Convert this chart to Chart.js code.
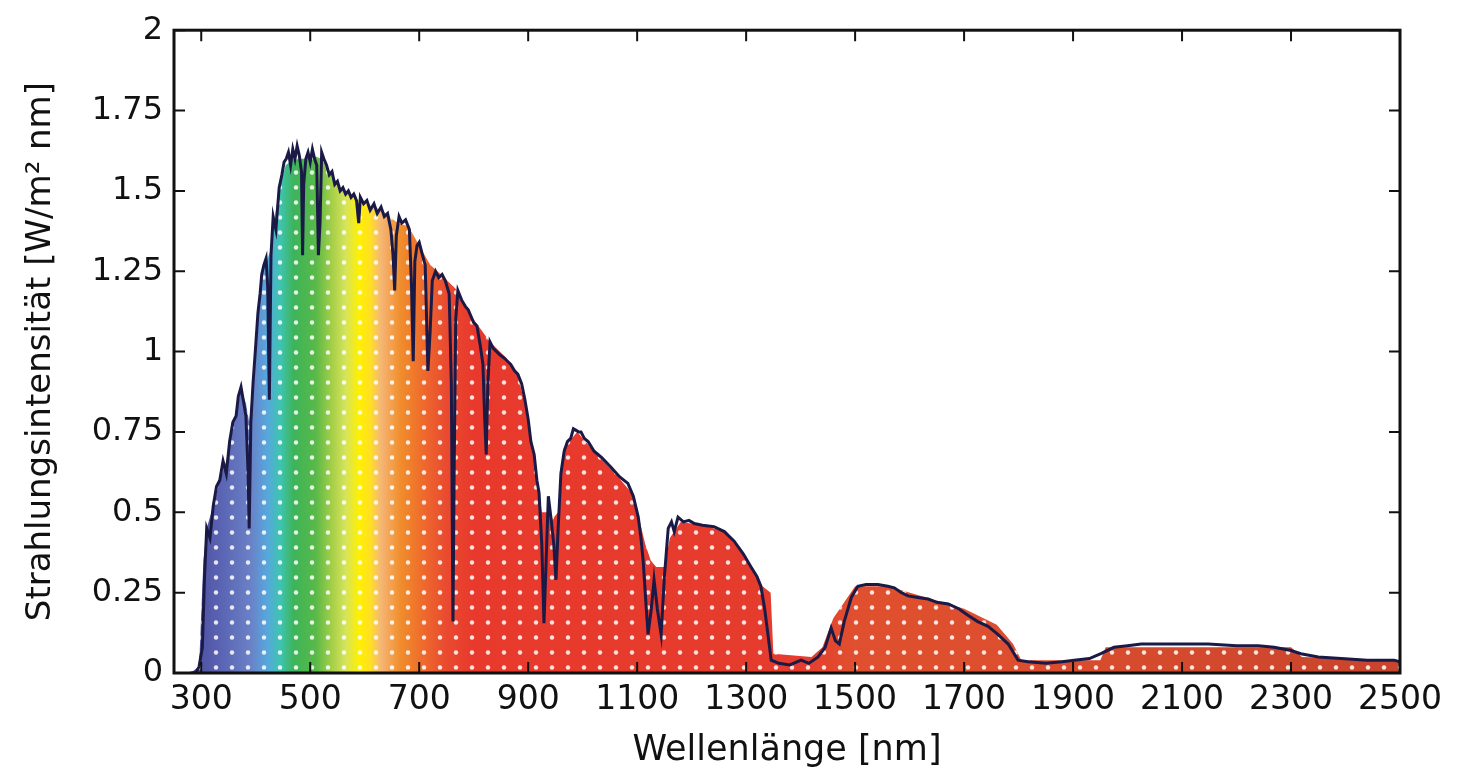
<!DOCTYPE html>
<html>
<head>
<meta charset="utf-8">
<script src="https://cdn.jsdelivr.net/npm/chart.js@4/dist/chart.umd.min.js"></script>
<style>
  html, body { margin: 0; padding: 0; background: #fff; }
  #wrap { width: 1473px; height: 776px; position: relative; }
</style>
</head>
<body>
<div id="wrap"><canvas id="chart"></canvas></div>
<script>
// spectrum outline (dark line), wavelength in nm
const wavelengths = [280, 290, 296, 302, 306, 310, 316, 322, 328, 334, 340, 346, 352, 358, 364, 368, 373, 378, 382, 386, 388, 391, 395,
  400, 404, 408, 411, 415, 419, 422, 425, 428, 432, 437, 443, 448, 452, 456, 460, 464, 468, 472, 476, 480, 484, 486, 488, 492, 496,
  500, 504, 508, 512, 515, 518, 521, 525, 530, 535, 540, 545, 550, 555, 560, 565, 570, 575, 580, 585, 589, 592, 598,
  604, 610, 617, 623, 630, 636, 642, 648, 652, 655, 658, 663, 668, 675, 682, 686, 689, 692, 696,
  700, 706, 711, 716, 720, 724, 730, 736, 742, 748, 755, 759, 762, 764, 767, 771, 778, 785, 790, 795,
  800, 806, 812, 817, 820, 823, 826, 830, 836, 842, 848, 856, 862, 868, 875, 881, 888, 894,
  900, 905, 911, 916, 920, 925, 929, 933, 937, 942, 947, 951, 955, 960, 966, 972, 978, 983, 988, 993, 997,
  1003, 1010, 1021, 1035, 1052, 1068, 1083, 1093, 1102, 1107, 1111, 1116, 1120, 1126, 1131, 1137, 1144, 1150, 1157, 1163, 1168, 1175, 1185, 1195,
  1205, 1220, 1241, 1260, 1278, 1295, 1309, 1320, 1327, 1334, 1340, 1346, 1360, 1380,
  1401, 1415, 1432, 1445, 1456, 1464, 1471, 1480, 1493, 1505, 1520, 1542, 1560, 1572, 1585, 1597,
  1615, 1634, 1650, 1671, 1690, 1707, 1725, 1744, 1762, 1781, 1799, 1817, 1850, 1880,
  1902, 1930, 1951, 1975, 2000, 2025, 2060, 2100, 2148, 2200, 2240, 2269, 2300, 2318, 2350, 2392, 2440, 2489, 2500];
const irradiance = [0, 0, 0.02, 0.08, 0.30, 0.45, 0.42, 0.52, 0.58, 0.60, 0.66, 0.62, 0.72, 0.78, 0.80, 0.86, 0.89, 0.84, 0.80, 0.62, 0.45, 0.78, 0.90,
  1.02, 1.12, 1.18, 1.24, 1.27, 1.29, 1.20, 0.85, 1.30, 1.42, 1.38, 1.51, 1.55, 1.59, 1.60, 1.62, 1.58, 1.63, 1.60, 1.64, 1.61, 1.56, 1.30, 1.52, 1.60, 1.62,
  1.59, 1.63, 1.60, 1.58, 1.30, 1.40, 1.62, 1.60, 1.58, 1.55, 1.56, 1.52, 1.53, 1.50, 1.51, 1.49, 1.50, 1.48, 1.49, 1.47, 1.40, 1.48, 1.46,
  1.47, 1.44, 1.46, 1.43, 1.45, 1.42, 1.43, 1.38, 1.30, 1.19, 1.36, 1.42, 1.40, 1.41, 1.38, 1.20, 0.97, 1.28, 1.33,
  1.34, 1.30, 1.27, 0.94, 1.06, 1.22, 1.25, 1.23, 1.24, 1.22, 1.18, 0.90, 0.16, 0.60, 1.10, 1.19, 1.16, 1.14, 1.13, 1.11,
  1.09, 1.08, 1.02, 0.96, 0.80, 0.68, 0.90, 1.03, 1.01, 1.00, 0.99, 0.98, 0.97, 0.96, 0.94, 0.93, 0.90, 0.85,
  0.79, 0.72, 0.68, 0.60, 0.56, 0.40, 0.155, 0.35, 0.55, 0.48, 0.40, 0.29, 0.45, 0.62, 0.69, 0.72, 0.73, 0.76, 0.755, 0.75, 0.75,
  0.73, 0.72, 0.69, 0.67, 0.64, 0.61, 0.59, 0.55, 0.485, 0.42, 0.35, 0.22, 0.12, 0.20, 0.29, 0.20, 0.12, 0.30, 0.45, 0.47, 0.44, 0.485, 0.47, 0.475,
  0.465, 0.46, 0.455, 0.44, 0.41, 0.37, 0.33, 0.30, 0.27, 0.20, 0.12, 0.04, 0.03, 0.025,
  0.04, 0.03, 0.05, 0.08, 0.14, 0.10, 0.09, 0.16, 0.235, 0.27, 0.275, 0.275, 0.27, 0.265, 0.25, 0.24,
  0.235, 0.23, 0.22, 0.215, 0.20, 0.18, 0.16, 0.145, 0.12, 0.09, 0.04, 0.035, 0.03, 0.035,
  0.04, 0.045, 0.06, 0.08, 0.085, 0.09, 0.09, 0.09, 0.09, 0.085, 0.085, 0.08, 0.07, 0.06, 0.05, 0.045, 0.04, 0.04, 0.035];

// top of the coloured area (it skips the narrow absorption lines)
const fillWavelengths = [280, 296, 304, 310, 322, 334, 346, 358, 373, 382, 388, 395, 405, 415, 420, 428, 435, 445, 455, 470, 490,
  505, 520, 540, 560, 580, 600, 620, 640, 660, 680, 700, 720, 740, 770, 800, 830, 860, 880, 900, 915, 925, 935, 945, 955, 965, 990,
  1020, 1060, 1090, 1105, 1115, 1125, 1135, 1150, 1160, 1180, 1220, 1260, 1300, 1320, 1330, 1345, 1350, 1420, 1440, 1460, 1480,
  1500, 1560, 1640, 1700, 1760, 1790, 1805, 1950, 1960, 2300, 2320, 2500];
const fillTop = [0, 0.02, 0.35, 0.45, 0.52, 0.60, 0.66, 0.76, 0.88, 0.84, 0.78, 0.90, 1.14, 1.27, 1.28, 1.32, 1.42, 1.52, 1.58, 1.60, 1.60,
  1.61, 1.60, 1.55, 1.50, 1.48, 1.46, 1.45, 1.43, 1.40, 1.39, 1.33, 1.27, 1.24, 1.19, 1.10, 1.03, 0.98, 0.93, 0.80, 0.62, 0.50, 0.50, 0.48, 0.50, 0.70, 0.75,
  0.69, 0.62, 0.56, 0.47, 0.40, 0.35, 0.33, 0.33, 0.42, 0.47, 0.46, 0.44, 0.36, 0.30, 0.27, 0.25, 0.06, 0.05, 0.08, 0.17, 0.22,
  0.27, 0.27, 0.23, 0.20, 0.15, 0.09, 0.04, 0.04, 0.08, 0.08, 0.05, 0.04];

const xTicks = [300, 500, 700, 900, 1100, 1300, 1500, 1700, 1900, 2100, 2300, 2500];
const yTicks = [0, 0.25, 0.5, 0.75, 1, 1.25, 1.5, 1.75, 2];
const yTickLabels = ['0', '0.25', '0.5', '0.75', '1', '1.25', '1.5', '1.75', '2'];

// spectral colours along the wavelength axis
const colorStops = [
  [280, '#4b4c9c'], [330, '#5861b0'], [390, '#6a80c6'], [420, '#58a6dc'], [445, '#3ec4b2'],
  [470, '#3db45a'], [510, '#58b948'], [540, '#a6cf48'], [565, '#d6e35c'], [590, '#fff000'],
  [610, '#ffe024'], [630, '#f5b676'], [665, '#f08e2c'], [710, '#ee682c'], [750, '#e94a30'],
  [800, '#e8392c'], [1400, '#e53c2e'], [1500, '#e0502f'], [1800, '#dc4e2e'], [2500, '#c8442c']
];

const X_MIN = 250, X_MAX = 2500;

function spectrumGradient(context) {
  const chart = context.chart;
  if (!chart.chartArea) return '#e8392c';
  const xs = chart.scales.x;
  const g = chart.ctx.createLinearGradient(xs.getPixelForValue(X_MIN), 0, xs.getPixelForValue(X_MAX), 0);
  colorStops.forEach(([nm, c]) => g.addColorStop((nm - X_MIN) / (X_MAX - X_MIN), c));
  return g;
}

function dotPattern() {
  const c = document.createElement('canvas');
  c.width = 16; c.height = 15;
  const p = c.getContext('2d');
  p.fillStyle = 'rgba(255,255,255,0.85)';
  p.beginPath();
  p.arc(8, 7.5, 2.2, 0, Math.PI * 2);
  p.fill();
  return p.createPattern(c, 'repeat');
}

const framePlugin = {
  id: 'frame',
  afterDatasetsDraw(chart) {
    const { ctx, chartArea: a, scales: { x, y } } = chart;
    ctx.save();
    ctx.strokeStyle = '#111';
    ctx.lineWidth = 2;
    ctx.beginPath();
    xTicks.forEach(v => {
      const px = x.getPixelForValue(v);
      ctx.moveTo(px, a.bottom); ctx.lineTo(px, a.bottom - 11);
      ctx.moveTo(px, a.top); ctx.lineTo(px, a.top + 11);
    });
    yTicks.forEach(v => {
      const py = y.getPixelForValue(v);
      ctx.moveTo(a.left, py); ctx.lineTo(a.left + 11, py);
      ctx.moveTo(a.right, py); ctx.lineTo(a.right - 11, py);
    });
    ctx.stroke();
    ctx.lineWidth = 3;
    ctx.strokeRect(a.left, a.top, a.right - a.left, a.bottom - a.top);
    ctx.restore();
  }
};

const outline = wavelengths.map((w, i) => ({ x: w, y: irradiance[i] }));
const area = fillWavelengths.map((w, i) => ({ x: w, y: fillTop[i] }));

new Chart(document.getElementById('chart'), {
  type: 'line',
  data: {
    datasets: [
      { data: outline, borderColor: '#1b1a46', borderWidth: 3, fill: false, order: 0 },
      { data: area, backgroundColor: dotPattern(), borderWidth: 0, fill: 'origin', order: 1 },
      { data: area, backgroundColor: spectrumGradient, borderWidth: 0, fill: 'origin', order: 2 }
    ]
  },
  options: {
    responsive: true,
    maintainAspectRatio: false,
    animation: false,
    layout: { padding: { top: 29, right: 73, left: 0, bottom: 0 } },
    elements: { point: { radius: 0 }, line: { tension: 0 } },
    plugins: { legend: { display: false }, tooltip: { enabled: false } },
    scales: {
      x: {
        type: 'linear',
        min: X_MIN,
        max: X_MAX,
        afterBuildTicks: s => { s.ticks = xTicks.map(v => ({ value: v })); },
        afterFit: s => { s.height = 103; },
        grid: { display: false, drawTicks: false },
        border: { display: false },
        ticks: {
          color: '#111',
          padding: 8,
          maxRotation: 0,
          autoSkip: false,
          font: { family: 'DejaVu Sans', size: 33 },
          callback: v => String(v)
        },
        title: {
          display: true,
          text: 'Wellenlänge [nm]',
          color: '#111',
          font: { family: 'DejaVu Sans', size: 35 },
          padding: { top: 0, bottom: 4 }
        }
      },
      y: {
        min: 0,
        max: 2,
        afterBuildTicks: s => { s.ticks = yTicks.map(v => ({ value: v })); },
        afterFit: s => { s.width = 174; },
        grid: { display: false, drawTicks: false },
        border: { display: false },
        ticks: {
          color: '#111',
          padding: 11,
          autoSkip: false,
          font: { family: 'DejaVu Sans', size: 32 },
          callback: v => yTickLabels[yTicks.indexOf(v)]
        },
        title: {
          display: true,
          text: 'Strahlungsintensität [W/m² nm]',
          color: '#111',
          font: { family: 'DejaVu Sans', size: 34 },
          padding: { top: 21, bottom: 0 }
        }
      }
    }
  },
  plugins: [framePlugin]
});
</script>
</body>
</html>
